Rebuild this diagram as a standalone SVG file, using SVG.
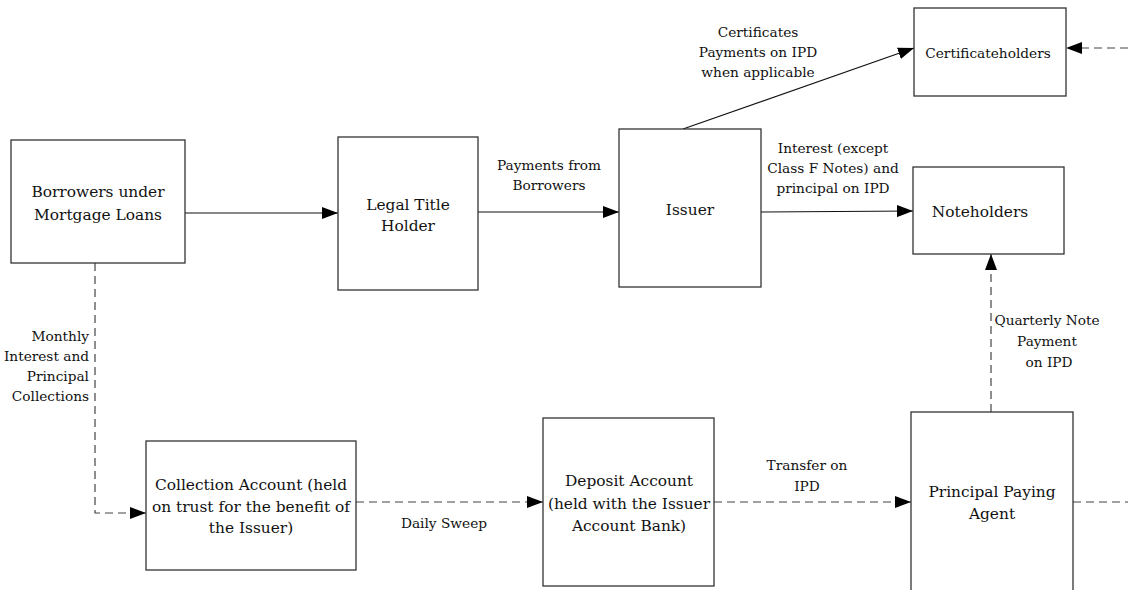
<svg xmlns="http://www.w3.org/2000/svg" width="1128" height="590" viewBox="0 0 1128 590">
<defs>
<style>
.box{fill:#fff;stroke:#333;stroke-width:1.3}
text{font-family:'DejaVu Serif',serif;fill:#111;text-anchor:middle}
.nt{font-size:15.4px}
.lb{font-size:13.7px}
.ln{fill:none;stroke:#111;stroke-width:1.2}
.dl{fill:none;stroke:#444;stroke-width:1.2;stroke-dasharray:8 5}
</style>
<marker id="ah" viewBox="0 0 16 12" refX="16" refY="6" markerWidth="16" markerHeight="12" markerUnits="userSpaceOnUse" orient="auto">
<path d="M0,0 L16,6 L0,12 Z" fill="#000"/>
</marker>
</defs>
<rect width="1128" height="590" fill="#fff"/>
<g id="connectors">
<line class="ln" x1="185" y1="213" x2="338" y2="213" marker-end="url(#ah)"/>
<line class="ln" x1="478" y1="212" x2="619" y2="212" marker-end="url(#ah)"/>
<line class="ln" x1="683" y1="129" x2="914" y2="48" marker-end="url(#ah)"/>
<line class="ln" x1="761" y1="212" x2="913" y2="211" marker-end="url(#ah)"/>
<line class="dl" x1="1128" y1="48" x2="1066" y2="48" marker-end="url(#ah)"/>
<polyline class="dl" points="95,263 95,513 146,513" marker-end="url(#ah)"/>
<line class="dl" x1="356" y1="502" x2="543" y2="502" marker-end="url(#ah)"/>
<line class="dl" x1="714" y1="502" x2="911" y2="502" marker-end="url(#ah)"/>
<line class="dl" x1="991" y1="412" x2="991" y2="254" marker-end="url(#ah)"/>
<line class="dl" x1="1073" y1="502" x2="1128" y2="502"/>
<text class="lb" x="549" y="170">Payments from</text>
<text class="lb" x="549" y="190">Borrowers</text>
<text class="lb" x="758" y="37">Certificates</text>
<text class="lb" x="758" y="57">Payments on IPD</text>
<text class="lb" x="758" y="77">when applicable</text>
<text class="lb" x="833" y="153">Interest (except</text>
<text class="lb" x="833" y="173">Class F Notes) and</text>
<text class="lb" x="833" y="193">principal on IPD</text>
<text class="lb" x="89" y="341" style="text-anchor:end">Monthly</text>
<text class="lb" x="89" y="361" style="text-anchor:end">Interest and</text>
<text class="lb" x="89" y="381" style="text-anchor:end">Principal</text>
<text class="lb" x="89" y="401" style="text-anchor:end">Collections</text>
<text class="lb" x="444" y="528">Daily Sweep</text>
<text class="lb" x="807" y="470">Transfer on</text>
<text class="lb" x="807" y="491">IPD</text>
<text class="lb" x="1047" y="325">Quarterly Note</text>
<text class="lb" x="1047" y="346">Payment</text>
<text class="lb" x="1049" y="367">on IPD</text>
</g>
<g id="borrowers">
<rect class="box" x="11" y="140" width="174" height="123"/>
<text class="nt" x="98" y="197">Borrowers under</text>
<text class="nt" x="98" y="220">Mortgage Loans</text>
</g>
<g id="legal-title-holder">
<rect class="box" x="338" y="137" width="140" height="153"/>
<text class="nt" x="408" y="210">Legal Title</text>
<text class="nt" x="408" y="231">Holder</text>
</g>
<g id="issuer">
<rect class="box" x="619" y="129" width="142" height="158"/>
<text class="nt" x="690" y="215">Issuer</text>
</g>
<g id="certificateholders">
<rect class="box" x="914" y="8" width="152" height="88"/>
<text class="lb" x="988" y="58">Certificateholders</text>
</g>
<g id="noteholders">
<rect class="box" x="913" y="167" width="151" height="87"/>
<text class="nt" x="980" y="217">Noteholders</text>
</g>
<g id="collection-account">
<rect class="box" x="146" y="441" width="210" height="129"/>
<text class="nt" x="251" y="490">Collection Account (held</text>
<text class="nt" x="251" y="512">on trust for the benefit of</text>
<text class="nt" x="251" y="533">the Issuer)</text>
</g>
<g id="deposit-account">
<rect class="box" x="543" y="418" width="171" height="168"/>
<text class="nt" x="629" y="486">Deposit Account</text>
<text class="nt" x="629" y="509">(held with the Issuer</text>
<text class="nt" x="629" y="531">Account Bank)</text>
</g>
<g id="principal-paying-agent">
<rect class="box" x="911" y="412" width="162" height="190"/>
<text class="nt" x="992" y="497">Principal Paying</text>
<text class="nt" x="992" y="519">Agent</text>
</g>
</svg>
